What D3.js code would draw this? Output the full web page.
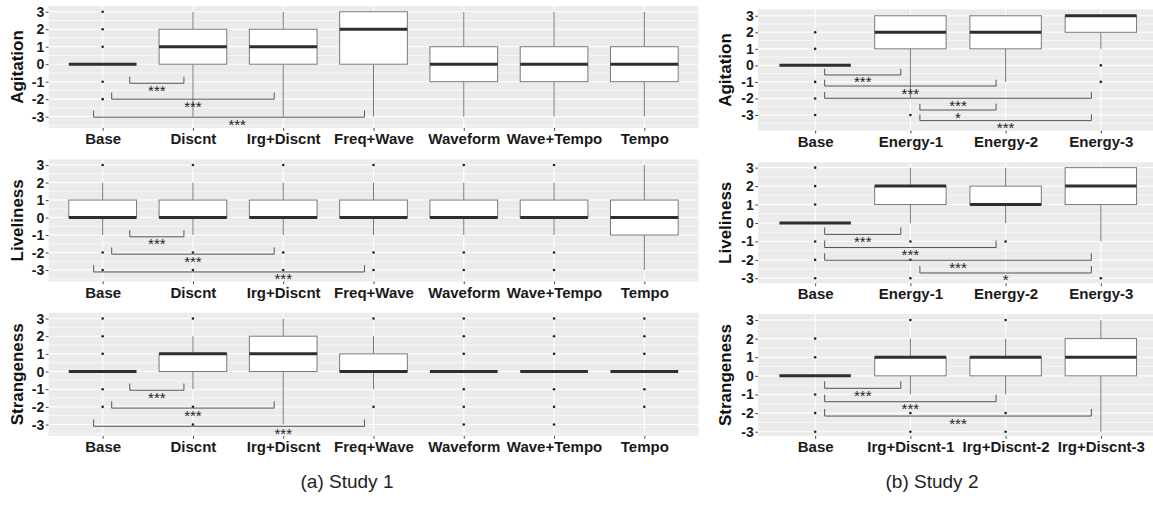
<!DOCTYPE html>
<html>
<head>
<meta charset="utf-8">
<script src="https://cdn.jsdelivr.net/npm/d3@7"></script>
<style>
  body { margin: 0; background: #fff; }
  svg { display: block; font-family: "Liberation Sans", Arial, Helvetica, sans-serif; }
</style>
</head>
<body>
<svg id="chart" width="1153" height="508"></svg>
<script>
const study1Cats = ["Base", "Discnt", "Irg+Discnt", "Freq+Wave", "Waveform", "Wave+Tempo", "Tempo"];
const energyCats = ["Base", "Energy-1", "Energy-2", "Energy-3"];
const irgCats = ["Base", "Irg+Discnt-1", "Irg+Discnt-2", "Irg+Discnt-3"];
const yTicks = [-3, -2, -1, 0, 1, 2, 3];

// box stats per category: [lower whisker, q1, median, q3, upper whisker]
const s1AgitationBox = [[0,0,0,0,0], [-3,0,1,2,3], [-3,0,1,2,3], [-3,0,2,3,3], [-3,-1,0,1,3], [-3,-1,0,1,3], [-3,-1,0,1,3]];
const s1AgitationOut = [[3,2,1,-1,-2], [], [], [], [], [], []];
const s1LivelinessBox = [[-1,0,0,1,2], [-1,0,0,1,2], [-1,0,0,1,2], [-1,0,0,1,2], [-1,0,0,1,2], [-1,0,0,1,2], [-3,-1,0,1,3]];
const s1LivelinessOut = [[3,-2,-3], [3,-2,-3], [3,-2,-3], [3,-2,-3], [3,-2,-3], [3,-2,-3], []];
const s1StrangenessBox = [[0,0,0,0,0], [-1,0,1,1,2], [-3,0,1,2,3], [-1,0,0,1,2], [0,0,0,0,0], [0,0,0,0,0], [0,0,0,0,0]];
const s1StrangenessOut = [[3,2,1,-1,-2], [3,-2,-3], [], [3,-2], [3,2,1,-1,-2,-3], [3,2,1,-1,-2,-3], [3,2,1,-1,-2]];

const s2AgitationBox = [[0,0,0,0,0], [-2,1,2,3,3], [-1,1,2,3,3], [1,2,3,3,3]];
const s2AgitationOut = [[2,1,-1,-2,-3], [-3], [], [0,-1]];
const s2LivelinessBox = [[0,0,0,0,0], [0,1,2,2,3], [0,1,1,2,3], [-1,1,2,3,3]];
const s2LivelinessOut = [[3,2,1,-1,-2,-3], [-1,-2,-3], [-1], [-3]];
const s2StrangenessBox = [[0,0,0,0,0], [-1,0,1,1,2], [-1,0,1,1,2], [-3,0,1,2,3]];
const s2StrangenessOut = [[2,1,-1,-2,-3], [3,-2,-3], [3,-2,-3], []];

// significance brackets: [from, to, level, label, label position]
const s1AgitationSig = [[1.3, 1.9, -1.09, "***", 1.6], [1.1, 2.9, -2.0, "***", 2.0], [0.9, 3.9, -3.03, "***", 2.49]];
const s1LivelinessSig = [[1.3, 1.9, -1.1, "***", 1.6], [1.1, 2.9, -2.09, "***", 2.0], [0.9, 3.9, -3.11, "***", 3.0]];
const s1StrangenessSig = [[1.3, 1.9, -1.06, "***", 1.6], [1.1, 2.9, -2.07, "***", 2.0], [0.9, 3.9, -3.1, "***", 3.0]];
const s2AgitationSig = [[1.1, 1.9, -0.58, "***", 1.5], [1.1, 2.9, -1.25, "***", 2.0], [1.1, 3.9, -1.99, "***", 2.5],
                        [2.1, 2.9, -2.7, "*", 2.5], [2.1, 3.9, -3.34, "***", 3.0]];
const s2LivelinessSig = [[1.1, 1.9, -0.62, "***", 1.5], [1.1, 2.9, -1.33, "***", 2.0], [1.1, 3.9, -2.02, "***", 2.5],
                         [2.1, 3.9, -2.71, "*", 3.0]];
const s2StrangenessSig = [[1.1, 1.9, -0.67, "***", 1.5], [1.1, 2.9, -1.39, "***", 2.0], [1.1, 3.9, -2.16, "***", 2.5]];

const panels = [
  {cats: study1Cats, box: s1AgitationBox, out: s1AgitationOut, sig: s1AgitationSig, title: "Agitation",
   xr: [48.5, 698.5], yr: [128, 6], dom: [-3.65, 3.33], titleX: 23},
  {cats: study1Cats, box: s1LivelinessBox, out: s1LivelinessOut, sig: s1LivelinessSig, title: "Liveliness",
   xr: [48.5, 698.5], yr: [281.4, 159.3], dom: [-3.65, 3.33], titleX: 23},
  {cats: study1Cats, box: s1StrangenessBox, out: s1StrangenessOut, sig: s1StrangenessSig, title: "Strangeness",
   xr: [48.5, 698.5], yr: [436, 312.7], dom: [-3.65, 3.33], titleX: 23},
  {cats: energyCats, box: s2AgitationBox, out: s2AgitationOut, sig: s2AgitationSig, title: "Agitation",
   xr: [758, 1158], yr: [130.7, 9.3], dom: [-3.95, 3.39], titleX: 731},
  {cats: energyCats, box: s2LivelinessBox, out: s2LivelinessOut, sig: s2LivelinessSig, title: "Liveliness",
   xr: [758, 1158], yr: [283.3, 162.3], dom: [-3.27, 3.29], titleX: 731},
  {cats: irgCats, box: s2StrangenessBox, out: s2StrangenessOut, sig: s2StrangenessSig, title: "Strangeness",
   xr: [758, 1158], yr: [436, 314], dom: [-3.23, 3.32], titleX: 731}
];

const svg = d3.select("#chart");
svg.append("rect").attr("width", 1153).attr("height", 508).attr("fill", "#fff");

panels.forEach(p => drawPanel(p));

function drawPanel(p) {
  const n = p.cats.length;
  const x = d3.scaleLinear().domain([0.4, n + 0.6]).range(p.xr);
  const y = d3.scaleLinear().domain(p.dom).range(p.yr);
  const g = svg.append("g");

  // background + grid
  g.append("rect")
    .attr("x", p.xr[0]).attr("y", p.yr[1])
    .attr("width", p.xr[1] - p.xr[0]).attr("height", p.yr[0] - p.yr[1])
    .attr("fill", "#ebebeb");

  let minor = d3.range(-3.5, 4, 1).filter(v => v > p.dom[0] && v < p.dom[1]);
  g.selectAll(".minor").data(minor).join("line")
    .attr("x1", p.xr[0]).attr("x2", p.xr[1])
    .attr("y1", d => y(d)).attr("y2", d => y(d))
    .attr("stroke", "#fff").attr("stroke-width", 0.6);
  g.selectAll(".major").data(yTicks).join("line")
    .attr("x1", p.xr[0]).attr("x2", p.xr[1])
    .attr("y1", d => y(d)).attr("y2", d => y(d))
    .attr("stroke", "#fff").attr("stroke-width", 1.1);
  g.selectAll(".vgrid").data(d3.range(1, n + 1)).join("line")
    .attr("x1", d => x(d)).attr("x2", d => x(d))
    .attr("y1", p.yr[1]).attr("y2", p.yr[0])
    .attr("stroke", "#fff").attr("stroke-width", 1.1);

  // axes
  let xAxis = d3.axisBottom(x)
    .tickValues(d3.range(1, n + 1))
    .tickFormat(i => p.cats[i - 1])
    .tickSize(2.75).tickPadding(2.75);
  let xg = g.append("g").attr("transform", `translate(0,${p.yr[0]})`).call(xAxis);
  xg.select(".domain").remove();
  xg.selectAll("line").attr("stroke", "#444");
  xg.selectAll("text").attr("font-size", 15).attr("font-weight", "bold").attr("fill", "#1a1a1a")
    .attr("font-family", "'Liberation Sans', Arial, sans-serif");

  let yAxis = d3.axisLeft(y).tickValues(yTicks).tickFormat(d => String(d))
    .tickSize(2.75).tickPadding(1.5);
  let yg = g.append("g").attr("transform", `translate(${p.xr[0]},0)`).call(yAxis);
  yg.select(".domain").remove();
  yg.selectAll("line").attr("stroke", "#444");
  yg.selectAll("text").attr("font-size", 14).attr("font-weight", "bold").attr("fill", "#1a1a1a")
    .attr("font-family", "'Liberation Sans', Arial, sans-serif");

  g.append("text")
    .attr("transform", `translate(${p.titleX},${(p.yr[0] + p.yr[1]) / 2}) rotate(-90)`)
    .attr("text-anchor", "middle")
    .attr("font-size", 17).attr("font-weight", "bold").attr("fill", "#111")
    .text(p.title);

  // boxes
  const half = 0.375;
  const boxes = g.selectAll(".box").data(p.box).join("g");
  boxes.append("line")
    .attr("x1", (d, i) => x(i + 1)).attr("x2", (d, i) => x(i + 1))
    .attr("y1", d => y(d[3])).attr("y2", d => y(d[4]))
    .attr("stroke", "#7a7a7a").attr("stroke-width", 1);
  boxes.append("line")
    .attr("x1", (d, i) => x(i + 1)).attr("x2", (d, i) => x(i + 1))
    .attr("y1", d => y(d[1])).attr("y2", d => y(d[0]))
    .attr("stroke", "#7a7a7a").attr("stroke-width", 1);
  boxes.append("rect")
    .attr("x", (d, i) => x(i + 1 - half))
    .attr("width", (d, i) => x(i + 1 + half) - x(i + 1 - half))
    .attr("y", d => y(d[3]))
    .attr("height", d => y(d[1]) - y(d[3]))
    .attr("fill", "#fff").attr("stroke", "#7a7a7a").attr("stroke-width", 1);
  boxes.append("line")
    .attr("x1", (d, i) => x(i + 1 - half)).attr("x2", (d, i) => x(i + 1 + half))
    .attr("y1", d => y(d[2])).attr("y2", d => y(d[2]))
    .attr("stroke", "#2e2e2e").attr("stroke-width", 3);

  // outliers
  const pts = [];
  p.out.forEach((arr, i) => arr.forEach(v => pts.push([i + 1, v])));
  g.selectAll(".out").data(pts).join("circle")
    .attr("cx", d => x(d[0])).attr("cy", d => y(d[1]))
    .attr("r", 1.3).attr("fill", "#222");

  // significance brackets
  const tip = 0.38;
  g.selectAll(".sig").data(p.sig).join("path")
    .attr("d", d => `M${x(d[0])},${y(d[2] + tip)}V${y(d[2])}H${x(d[1])}V${y(d[2] + tip)}`)
    .attr("fill", "none").attr("stroke", "#555").attr("stroke-width", 1);
  g.selectAll(".sigtext").data(p.sig).join("text")
    .attr("x", d => x(d[4])).attr("y", d => y(d[2]) + 12.5)
    .attr("text-anchor", "middle")
    .attr("font-size", 15).attr("fill", "#222")
    .text(d => d[3]);
}

svg.append("text").attr("x", 347).attr("y", 488).attr("text-anchor", "middle")
  .attr("font-size", 19).attr("fill", "#222").text("(a) Study 1");
svg.append("text").attr("x", 932).attr("y", 488).attr("text-anchor", "middle")
  .attr("font-size", 19).attr("fill", "#222").text("(b) Study 2");
</script>
</body>
</html>
